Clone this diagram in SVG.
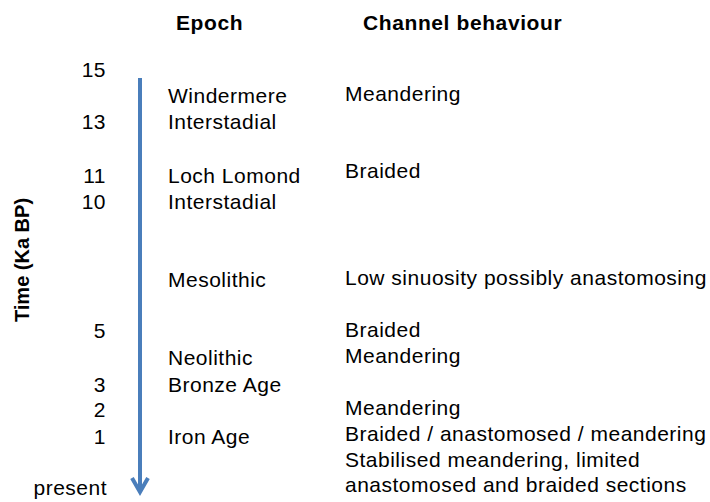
<svg xmlns="http://www.w3.org/2000/svg" width="710" height="502" viewBox="0 0 710 502">
  <style>
    text { font-family: "Liberation Sans", Arial, sans-serif; fill: #000; }
    .h { font-size: 21px; font-weight: bold; letter-spacing: 0.6px; }
    .t { font-size: 21px; letter-spacing: 0.5px; }
    .n { font-size: 21px; letter-spacing: 0.5px; text-anchor: end; }
    .ax { font-size: 20px; font-weight: bold; text-anchor: middle; }
    .arrow { stroke: #4A7EBB; stroke-width: 4; fill: none; }
  </style>
  <rect width="710" height="502" fill="#fff"/>
  <g id="headers">
    <text class="h" x="176" y="30">Epoch</text>
    <text class="h" x="363" y="30">Channel behaviour</text>
  </g>
  <g id="axis-label">
    <text class="ax" transform="translate(28.5,260) rotate(-90)">Time (Ka BP)</text>
  </g>
  <g id="connectors">
    <line class="arrow" x1="140" y1="78" x2="140" y2="492"/>
    <polyline class="arrow" points="132,478 140,492 148,478" stroke-linejoin="miter"/>
  </g>
  <g id="time-ticks">
    <text class="n" x="106" y="77">15</text>
    <text class="n" x="106" y="129">13</text>
    <text class="n" x="106" y="183">11</text>
    <text class="n" x="106" y="209">10</text>
    <text class="n" x="106" y="338">5</text>
    <text class="n" x="106" y="392">3</text>
    <text class="n" x="106" y="417">2</text>
    <text class="n" x="106" y="444">1</text>
    <text class="n" x="107" y="495">present</text>
  </g>
  <g id="epochs">
    <text class="t" x="168" y="103">Windermere</text>
    <text class="t" x="168" y="129">Interstadial</text>
    <text class="t" x="168" y="183">Loch Lomond</text>
    <text class="t" x="168" y="209">Interstadial</text>
    <text class="t" x="168" y="287">Mesolithic</text>
    <text class="t" x="168" y="365">Neolithic</text>
    <text class="t" x="168" y="392">Bronze Age</text>
    <text class="t" x="168" y="444">Iron Age</text>
  </g>
  <g id="channel-behaviour">
    <text class="t" x="345" y="101">Meandering</text>
    <text class="t" x="345" y="178">Braided</text>
    <text class="t" x="345" y="285">Low sinuosity possibly anastomosing</text>
    <text class="t" x="345" y="337">Braided</text>
    <text class="t" x="345" y="363">Meandering</text>
    <text class="t" x="345" y="415">Meandering</text>
    <text class="t" x="345" y="441">Braided / anastomosed / meandering</text>
    <text class="t" x="345" y="467">Stabilised meandering, limited</text>
    <text class="t" x="345" y="492">anastomosed and braided sections</text>
  </g>
</svg>
